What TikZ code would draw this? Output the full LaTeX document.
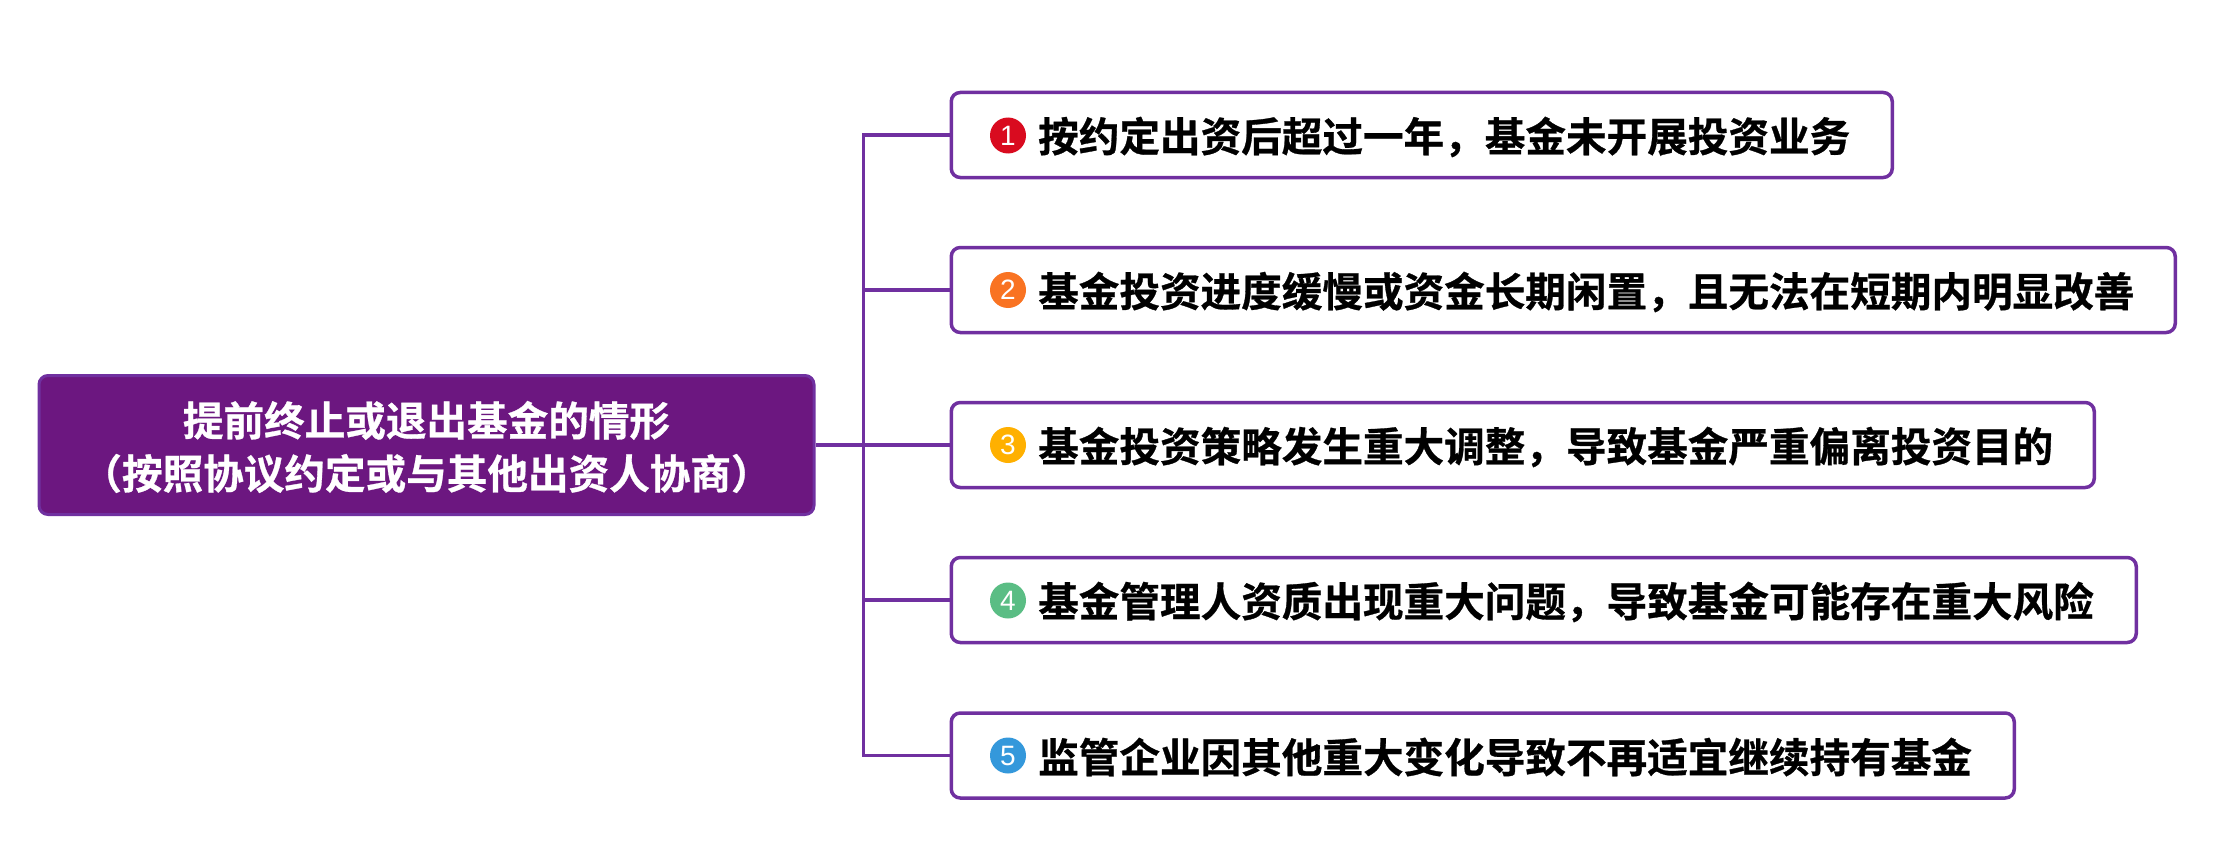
\documentclass[tikz,border=0pt]{standalone}
\usepackage{fontspec}
\setmainfont{Liberation Sans}
\newfontfamily\cjkb[FakeBold=0.7]{Noto Sans CJK SC Bold}
\definecolor{lineP}{HTML}{7030A0}
\definecolor{rootP}{HTML}{6C1780}
\definecolor{numA}{HTML}{D90B1F}
\definecolor{numB}{HTML}{F97322}
\definecolor{numC}{HTML}{FFB000}
\definecolor{numD}{HTML}{5ABD84}
\definecolor{numE}{HTML}{3498DB}
\tikzset{
  x=1pt,y=-1pt,
  rootbox/.style={draw=lineP,line width=3pt,fill=rootP,rounded corners=9pt,inner sep=0pt,minimum width=775pt,minimum height=139pt,text=white},
  roottext/.style={inner sep=0pt,align=center,text=white,font=\cjkb\fontsize{40.6}{53}\selectfont},
  itembox/.style={draw=lineP,line width=3.5pt,fill=white,rounded corners=9pt,inner sep=0pt,minimum height=85pt,anchor=west},
  itemtext/.style={anchor=west,inner sep=0pt,text=black,font=\cjkb\fontsize{40.6}{40.6}\selectfont},
  numdot/.style={circle,minimum size=36pt,inner sep=0pt,text=white,font=\fontsize{28}{28}\selectfont},
  conn/.style={draw=lineP,line width=3.2pt,line join=miter}
}
\begin{document}
\begin{tikzpicture}
\useasboundingbox (0,0) rectangle (2216,848);
\node[rootbox] (root) at (426.5,445) {};
\node[roottext] (roott) at (426.5,447) {提前终止或退出基金的情形\\（按照协议约定或与其他出资人协商）};
\node[itembox,minimum width=941pt] (b1) at (949.5,135) {};
\node[itembox,minimum width=1224pt] (b2) at (949.5,290) {};
\node[itembox,minimum width=1143pt] (b3) at (949.5,445) {};
\node[itembox,minimum width=1185pt] (b4) at (949.5,600) {};
\node[itembox,minimum width=1063pt] (b5) at (949.5,755.5) {};
\coordinate (trunk) at (863.5,445);
\draw[conn] (root.east) -- (b3.west);
\draw[conn] (b1.west) -- (b1.west -| trunk) -- (b5.west -| trunk) -- (b5.west);
\draw[conn] (b2.west) -- (b2.west -| trunk);
\draw[conn] (b4.west) -- (b4.west -| trunk);
\node[numdot,fill=numA] (n1) at (1008,135.5) {1};
\node[numdot,fill=numB] (n2) at (1008,290) {2};
\node[numdot,fill=numC] (n3) at (1008,445) {3};
\node[numdot,fill=numD] (n4) at (1008,600.5) {4};
\node[numdot,fill=numE] (n5) at (1008,755.5) {5};
\node[itemtext] (t1) at (1038,137) {按约定出资后超过一年，基金未开展投资业务};
\node[itemtext] (t2) at (1038,292) {基金投资进度缓慢或资金长期闲置，且无法在短期内明显改善};
\node[itemtext] (t3) at (1038,447) {基金投资策略发生重大调整，导致基金严重偏离投资目的};
\node[itemtext] (t4) at (1038,602) {基金管理人资质出现重大问题，导致基金可能存在重大风险};
\node[itemtext] (t5) at (1038,757) {监管企业因其他重大变化导致不再适宜继续持有基金};
\end{tikzpicture}
\end{document}
